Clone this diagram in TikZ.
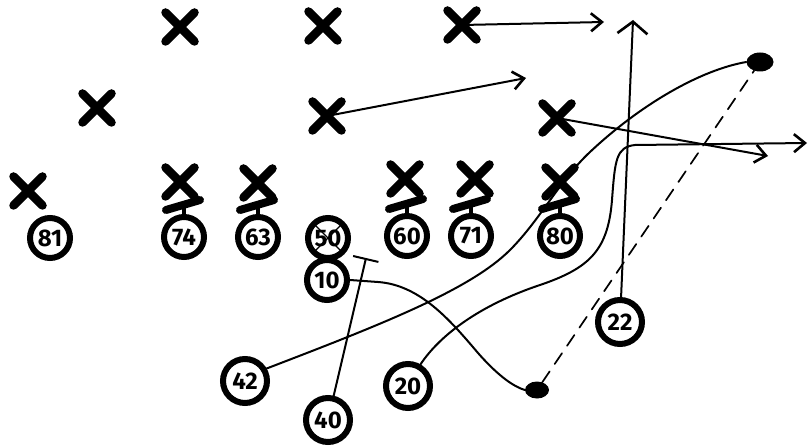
\documentclass[tikz,border=0pt]{standalone}
\usepackage{fontspec}
\setmainfont{Fira Sans}
\usetikzlibrary{arrows.meta,shapes.misc,shapes.geometric,calc,backgrounds}
\begin{document}
\begin{tikzpicture}[x=1pt,y=-1pt,
  defx/.style={cross out,draw,line width=8.5pt,line cap=round,minimum size=29pt,inner sep=0pt,outer sep=0pt},
  player/.style={circle,draw,line width=6pt,minimum size=40pt,inner sep=0pt,font=\fontsize{24}{24}\selectfont\bfseries},
  bigplayer/.style={player,minimum size=44pt},
  route/.style={line width=2pt,line cap=round},
  arr/.style={route,-{Straight Barb[length=11pt,width=18pt,line width=2.6pt]}},
  widearr/.style={route,-{Straight Barb[length=12pt,width=30pt,line width=2.6pt]}},
  blockbar/.style={line width=8pt,line cap=round},
  stem/.style={line width=4.5pt},
  spot/.style={ellipse,fill=black,inner sep=0pt},
  strike/.style={line width=1.4pt},
]
\useasboundingbox (0,0) rectangle (811,446);

% defence
\node[defx] (d1) at (180,27) {};
\node[defx] (d2) at (323,26) {};
\node[defx] (d3) at (462,25) {};
\node[defx] (d4) at (97,108) {};
\node[defx] (d5) at (327,116) {};
\node[defx] (d6) at (557,118) {};
\node[defx] (d7) at (28,191) {};
\node[defx] (d8) at (180,182) {};
\node[defx] (d9) at (258,183) {};
\node[defx] (d10) at (405,179) {};
\node[defx] (d11) at (475,179) {};
\node[defx] (d12) at (560,182) {};

% offence
\node[player] (p81) at (50,238) {81};
\node[player] (p74) at (184,237) {74};
\node[player] (p63) at (258,237) {63};
\node[player] (p50) at (328,238) {50};
\node[player] (p60) at (407,236) {60};
\node[player] (p71) at (471,236) {71};
\node[player] (p80) at (560,236) {80};
\node[player] (p10) at (327,280) {10};
\node[bigplayer] (p22) at (620,322) {22};
\node[bigplayer] (p42) at (245,381) {42};
\node[bigplayer] (p20) at (408,386) {20};
\node[bigplayer] (p40) at (328,420) {40};

% crossed-out centre
\draw[strike] ($(p50)+(-13,-13)$) -- ($(p50)+(13,13)$);
\draw[strike] ($(p50)+(13,-13)$) -- ($(p50)+(-13,13)$);

% blocking marks
\foreach \p in {74,63,60,71,80} {
  \draw[blockbar] ($(p\p)+(-18,-27)$) -- ($(p\p)+(16,-37)$);
  \draw[stem] ($(p\p)+(0,-31)$) -- (p\p.north);
}

% ball spots
\node[spot,minimum width=24pt,minimum height=17pt] (sA) at (537,390) {};
\node[spot,minimum width=27pt,minimum height=19pt] (sB) at (760,62) {};

% route ends
\coordinate (e1) at (604,22);
\coordinate (e2) at (526,78);
\coordinate (e3) at (768,156);
\coordinate (e4) at (633,20);
\coordinate (e5) at (807,143);
\coordinate (t40) at (366,258);

\begin{scope}[on background layer]
\draw[arr] (d3.center) -- (e1);
\draw[arr] (d5.center) -- (e2);
\draw[arr] (d6.center) -- (e3);
\draw[widearr] (p22) -- (e4);
\draw[route,-{Bar[width=26pt,line width=2pt]}] (p40) -- (t40);
\draw[route] (p10.east) -- (378,282) .. controls (420,285) and (450,320) .. (478,353)
  .. controls (500,378) and (515,387) .. (sA.west);
\draw[route] (p42.30) .. controls (380,325) and (470,290) .. (510,250)
  .. controls (540,220) and (560,180) .. (590,152)
  .. controls (640,105) and (700,70) .. (sB.west);
\draw[arr] (p20.60) .. controls (440,335) and (480,305) .. (540,285)
  .. controls (590,268) and (608,250) .. (612,200)
  .. controls (615,160) and (616,147) .. (635,145) -- (e5);
\draw[route,line width=1.7pt,dash pattern=on 13pt off 9pt] (sA) -- (sB);
\end{scope}
\end{tikzpicture}
\end{document}
